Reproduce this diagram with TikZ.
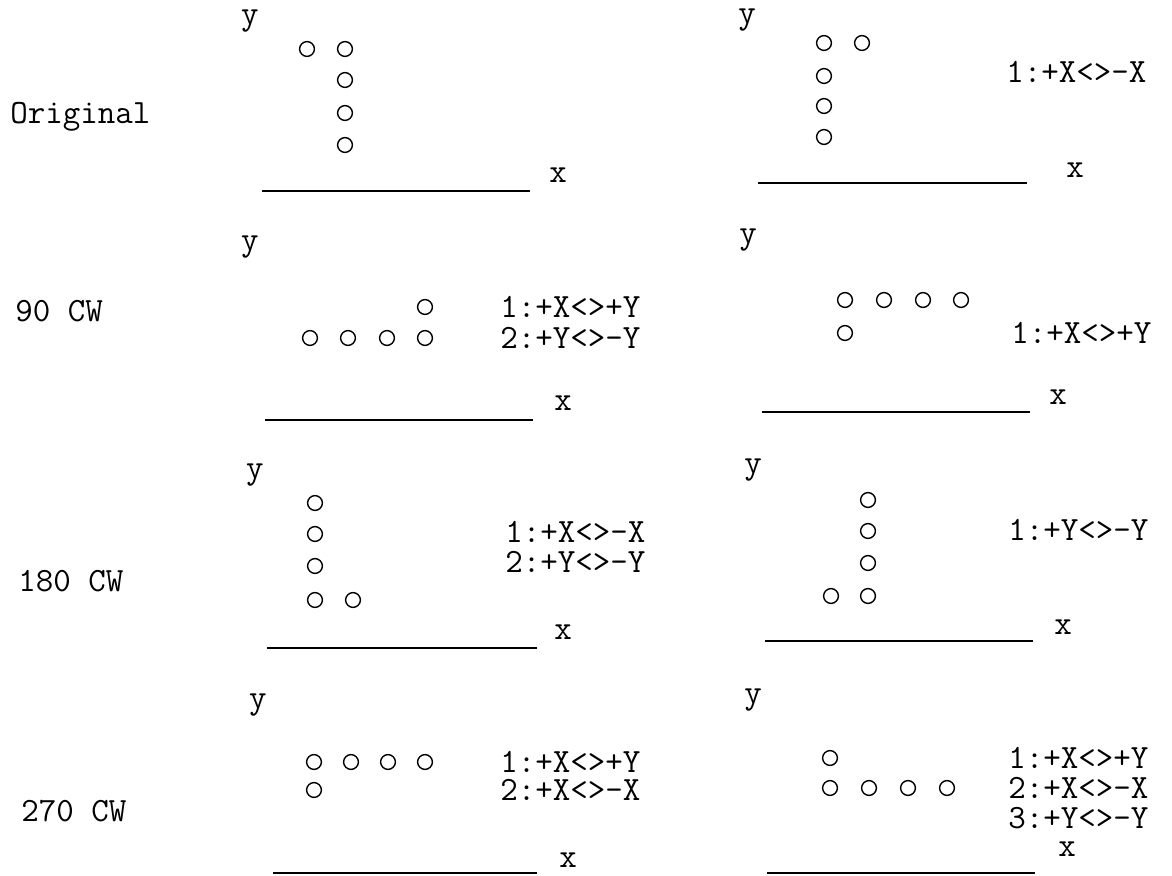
\documentclass[tikz,border=0pt]{standalone}
\usepackage{fontspec}
\usetikzlibrary{calc}

\begin{document}
\begin{tikzpicture}[x=0.5pt,y=-0.5pt,
  every node/.style={inner sep=0pt,font=\ttfamily\fontsize{17}{20}\selectfont},
  tag/.style={anchor=west,text height=10.4pt,text depth=0pt},
  dot/.style={circle,draw,line width=0.7pt,minimum size=7.4pt},
  axis/.style={line width=1pt}]
\useasboundingbox (0,0) rectangle (1172,876);

% row labels
\node[tag] (R1) at (10,113) {Original};
\node[tag] (R2) at (15,311) {90 CW};
\node[tag] (R3) at (18,581) {180 CW};
\node[tag] (R4) at (21,811) {270 CW};

% Original
\node (Y1) at (250,21) {y};
\node[dot] (D11) at (307,49) {};
\node[dot] (D12) at (345,49) {};
\node[dot] (D13) at (345,80) {};
\node[dot] (D14) at (345,113) {};
\node[dot] (D15) at (345,145) {};
\coordinate (A1) at (262,191);
\coordinate (B1) at (530,191);
\node (X1) at (558,175) {x};

\node (Y2) at (747,20) {y};
\node[dot] (D21) at (824,43) {};
\node[dot] (D22) at (862,43) {};
\node[dot] (D23) at (824,76) {};
\node[dot] (D24) at (824,106) {};
\node[dot] (D25) at (824,137) {};
\node[tag] (T21) at (1006,72) {1:+X<>-X};
\coordinate (A2) at (758,183);
\coordinate (B2) at (1027,183);
\node (X2) at (1075,170) {x};

% 90 CW
\node (Y3) at (250,247) {y};
\node[dot] (D31) at (425,307) {};
\node[dot] (D32) at (310,338) {};
\node[dot] (D33) at (348,338) {};
\node[dot] (D34) at (387,338) {};
\node[dot] (D35) at (425,338) {};
\node[tag] (T31) at (500,307) {1:+X<>+Y};
\node[tag] (T32) at (500,338) {2:+Y<>-Y};
\coordinate (A3) at (265,420);
\coordinate (B3) at (533,420);
\node (X3) at (563,403) {x};

\node (Y4) at (748,240) {y};
\node[dot] (D41) at (845,300) {};
\node[dot] (D42) at (884,300) {};
\node[dot] (D43) at (923,300) {};
\node[dot] (D44) at (961,300) {};
\node[dot] (D45) at (845,333) {};
\node[tag] (T41) at (1011,333) {1:+X<>+Y};
\coordinate (A4) at (762,412);
\coordinate (B4) at (1030,412);
\node (X4) at (1058,397) {x};

% 180 CW
\node (Y5) at (255,475) {y};
\node[dot] (D51) at (315,503) {};
\node[dot] (D52) at (315,534) {};
\node[dot] (D53) at (315,566) {};
\node[dot] (D54) at (315,600) {};
\node[dot] (D55) at (353,600) {};
\node[tag] (T51) at (505,532) {1:+X<>-X};
\node[tag] (T52) at (505,562) {2:+Y<>-Y};
\coordinate (A5) at (267,648);
\coordinate (B5) at (537,648);
\node (X5) at (563,632) {x};

\node (Y6) at (753,470) {y};
\node[dot] (D61) at (868,500) {};
\node[dot] (D62) at (868,531) {};
\node[dot] (D63) at (868,563) {};
\node[dot] (D64) at (868,596) {};
\node[dot] (D65) at (831,596) {};
\node[tag] (T61) at (1008,530) {1:+Y<>-Y};
\coordinate (A6) at (765,641);
\coordinate (B6) at (1033,641);
\node (X6) at (1063,627) {x};

% 270 CW
\node (Y7) at (258,705) {y};
\node[dot] (D71) at (314,762) {};
\node[dot] (D72) at (351,762) {};
\node[dot] (D73) at (388,762) {};
\node[dot] (D74) at (425,762) {};
\node[dot] (D75) at (314,790) {};
\node[tag] (T71) at (500,762) {1:+X<>+Y};
\node[tag] (T72) at (500,790) {2:+X<>-X};
\coordinate (A7) at (273,873);
\coordinate (B7) at (537,873);
\node (X7) at (568,860) {x};

\node (Y8) at (753,700) {y};
\node[dot] (D81) at (830,758) {};
\node[dot] (D82) at (830,788) {};
\node[dot] (D83) at (869,788) {};
\node[dot] (D84) at (908,788) {};
\node[dot] (D85) at (947,788) {};
\node[tag] (T81) at (1008,758) {1:+X<>+Y};
\node[tag] (T82) at (1008,788) {2:+X<>-X};
\node[tag] (T83) at (1008,818) {3:+Y<>-Y};
\coordinate (A8) at (767,873);
\coordinate (B8) at (1035,873);
\node (X8) at (1067,849) {x};

\path[axis] (A1) edge (B1) (A2) edge (B2) (A3) edge (B3) (A4) edge (B4);
\path[axis] (A5) edge (B5) (A6) edge (B6) (A7) edge (B7) (A8) edge (B8);
\end{tikzpicture}
\end{document}
